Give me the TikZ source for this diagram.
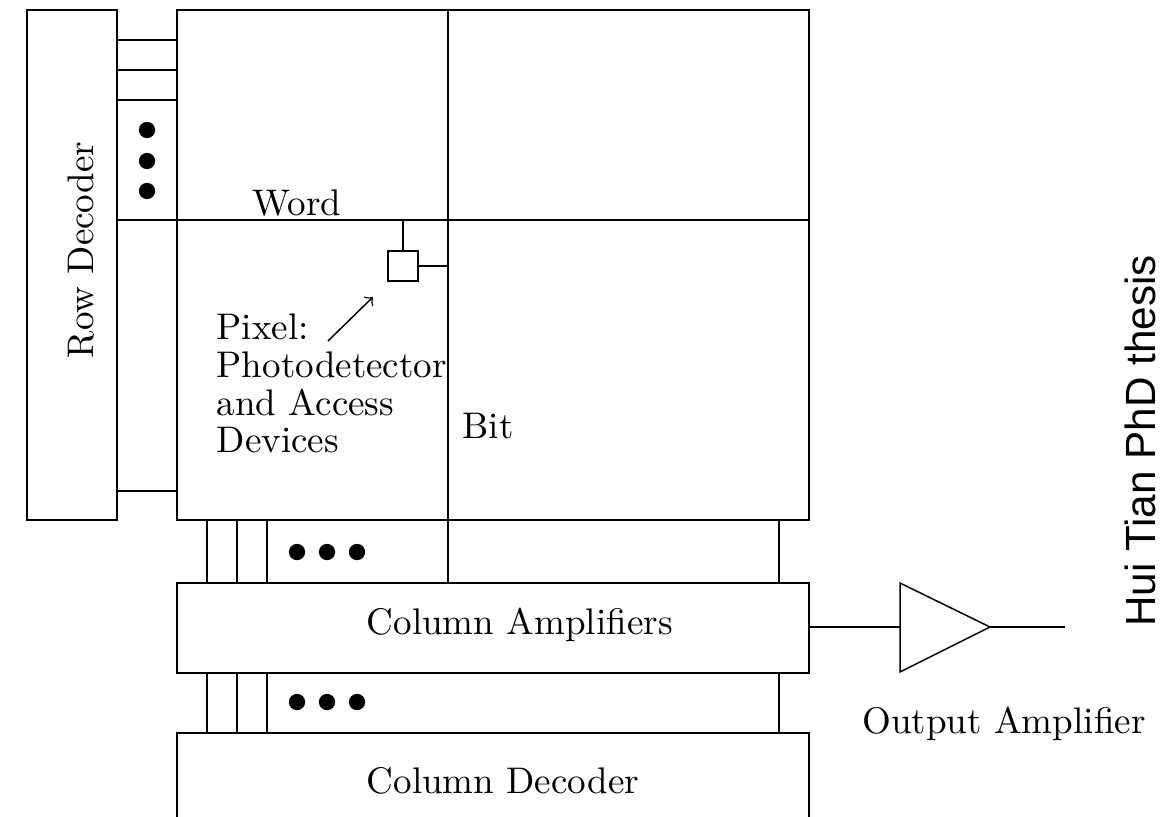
\documentclass[tikz,border=0pt]{standalone}
\usepackage{fontspec}
\newfontfamily\thesisfont{Liberation Sans}
\usetikzlibrary{fit}
\begin{document}
\begin{tikzpicture}[x=0.27pt,y=-0.27pt,
  blk/.style={draw, line width=0.4pt, inner sep=0pt},
  wire/.style={line width=0.4pt},
  bigdot/.style={circle, fill=black, inner sep=0pt, minimum size=4.4pt},
  lbl/.style={inner sep=0pt, font=\fontsize{10}{10.2}\selectfont}]
\useasboundingbox (0,0) rectangle (1160,816);
\clip (0,0) rectangle (1160,816);

% blocks
\node[blk, fit={(27,10) (117,520)}] (rowdec) {};
\node[blk, fit={(177,10) (809,520)}] (array) {};
\node[blk, fit={(177,583) (809,673)}] (colamp) {};
\node[blk, fit={(177,733) (809,860)}] (coldec) {};
\node[blk, fit={(388,251) (418,281)}] (pixel) {};

% word and bit lines
\coordinate (wordL) at (117,220);
\coordinate (wordR) at (809,220);
\draw[wire] (wordL) -- (wordR);
\coordinate (bitT) at (448,10);
\coordinate (bitB) at (448,583);
\draw[wire] (bitT) -- (bitB);
\coordinate (pixW) at (403,220);
\coordinate (pixB) at (448,266);
\draw[wire] (pixW) -- (pixel.north);
\draw[wire] (pixel.east) -- (pixB);

% row lines
\foreach \yy in {40,70,100,491}
  \draw[wire] (117,\yy) -- (177,\yy);
\foreach \yy/\nm in {130/rd1,161/rd2,191/rd3}
  \node[bigdot] (\nm) at (147,\yy) {};

% column lines
\foreach \xx in {207,237,267,779}{
  \draw[wire] (\xx,520) -- (\xx,583);
  \draw[wire] (\xx,673) -- (\xx,733);
}
\foreach \xx/\nm in {297/a,327/b,357/c}{
  \node[bigdot] (cu\nm) at (\xx,552) {};
  \node[bigdot] (cl\nm) at (\xx,702) {};
}

% output amplifier
\coordinate (ampIn) at (900,627);
\coordinate (ampOut) at (990,627);
\coordinate (outEnd) at (1065,627);
\draw[wire] (900,583) -- (ampOut) -- (900,672) -- cycle;
\draw[wire] (colamp.east |- ampIn) -- (ampIn);
\draw[wire] (ampOut) -- (outEnd);

% arrow to pixel
\coordinate (arrS) at (328,341);
\coordinate (arrE) at (373,297);
\draw[wire, ->] (arrS) -- (arrE);

% labels
\node[lbl, rotate=90, anchor=base] (rdlabel) at (93,250) {Row Decoder};
\node[lbl, anchor=base] (wordlabel) at (297,215) {Word};
\node[lbl, anchor=base] (bitlabel) at (488,438) {Bit};
\node[lbl, anchor=north west, align=left] (pixlabel) at (216,313)
  {Pixel:\\Photodetector\\and Access\\Devices};
\node[lbl, anchor=base west] (calabel) at (366,634) {Column Amplifiers};
\node[lbl, anchor=base west] (cdlabel) at (366,793) {Column Decoder};
\node[lbl, anchor=base] (oalabel) at (1004,733) {Output Amplifier};
\node[inner sep=0pt, rotate=90, anchor=base, font=\thesisfont\fontsize{11.4}{12}\selectfont] (thesis) at (1155,441) {Hui Tian PhD thesis};
\end{tikzpicture}
\end{document}
